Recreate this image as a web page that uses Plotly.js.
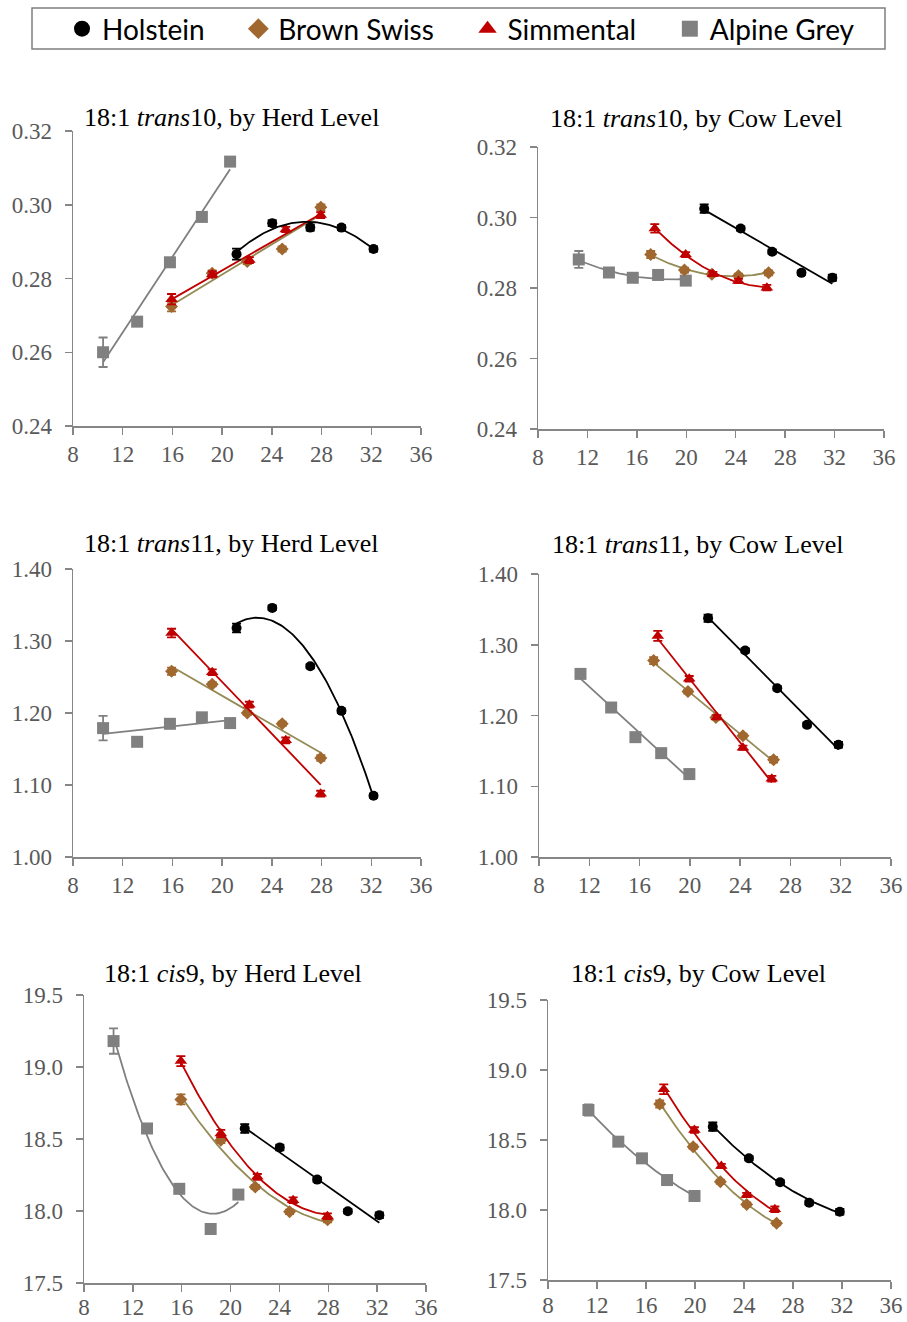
<!DOCTYPE html>
<html><head><meta charset="utf-8">
<script src="https://cdn.plot.ly/plotly-3.0.1.min.js"></script>
<style>html,body{margin:0;padding:0;background:#fff}#chart{width:907px;height:1322px}</style>
</head><body><div id="chart"></div>
<script>
// ---------- data ----------
const breeds = ['Holstein', 'Brown Swiss', 'Simmental', 'Alpine Grey'];

// milk yield (x) by herd level and by cow level
const xHerdHol = [21.16, 24.03, 27.09, 29.60, 32.18];
const xHerdBS  = [15.93, 19.20, 22.02, 24.83, 27.94];
const xHerdSim = [15.93, 19.20, 22.19, 25.12, 27.93];
const xHerdAG  = [10.42, 13.16, 15.80, 18.37, 20.64];
const xCowHol  = [21.45, 24.40, 26.95, 29.32, 31.82];
const xCowBS   = [17.12, 19.85, 22.07, 24.22, 26.66];
const xCowSim  = [17.45, 19.95, 22.15, 24.22, 26.52];
const xCowAG   = [11.30, 13.74, 15.67, 17.72, 19.96];

// 18:1 trans10
const t10HerdHol = [0.2866, 0.2950, 0.2938, 0.2938, 0.2880];
const t10HerdBS  = [0.2724, 0.2814, 0.2846, 0.2880, 0.2993];
const t10HerdSim = [0.2744, 0.2811, 0.2850, 0.2933, 0.2972];
const t10HerdAG  = [0.2600, 0.2683, 0.2844, 0.2967, 0.3117];
const t10HerdHolSE = [0.0015, 0.0008, 0.0008, 0.0007, 0.0007];
const t10HerdBSSE  = [0.0013, 0.0008, 0.0007, 0.0007, 0.0008];
const t10HerdSimSE = [0.0014, 0.0008, 0.0008, 0.0007, 0.0008];
const t10HerdAGSE  = [0.0040, 0.0008, 0.0008, 0.0008, 0.0008];

const t10CowHol = [0.3025, 0.2969, 0.2903, 0.2843, 0.2829];
const t10CowBS  = [0.2895, 0.2851, 0.2839, 0.2835, 0.2843];
const t10CowSim = [0.2969, 0.2895, 0.2840, 0.2820, 0.2801];
const t10CowAG  = [0.2881, 0.2844, 0.2829, 0.2837, 0.2821];
const t10CowHolSE = [0.0012, 0.0006, 0.0006, 0.0006, 0.0009];
const t10CowBSSE  = [0.0010, 0.0007, 0.0006, 0.0006, 0.0007];
const t10CowSimSE = [0.0012, 0.0007, 0.0006, 0.0006, 0.0008];
const t10CowAGSE  = [0.0024, 0.0008, 0.0007, 0.0007, 0.0009];

// 18:1 trans11
const t11HerdHol = [1.318, 1.346, 1.265, 1.203, 1.085];
const t11HerdBS  = [1.258, 1.240, 1.200, 1.185, 1.1375];
const t11HerdSim = [1.311, 1.2565, 1.2116, 1.162, 1.088];
const t11HerdAG  = [1.179, 1.160, 1.185, 1.194, 1.186];
const t11HerdHolSE = [0.006, 0.003, 0.003, 0.003, 0.003];
const t11HerdBSSE  = [0.005, 0.003, 0.003, 0.003, 0.004];
const t11HerdSimSE = [0.006, 0.004, 0.004, 0.004, 0.004];
const t11HerdAGSE  = [0.017, 0.004, 0.004, 0.004, 0.004];

const t11CowHol = [1.3374, 1.2918, 1.2386, 1.1868, 1.1586];
const t11CowBS  = [1.2776, 1.2339, 1.1972, 1.1713, 1.1374];
const t11CowSim = [1.3125, 1.2518, 1.1976, 1.1544, 1.1106];
const t11CowAG  = [1.2588, 1.2113, 1.1694, 1.1468, 1.1172];
const t11CowHolSE = [0.005, 0.003, 0.003, 0.003, 0.004];
const t11CowBSSE  = [0.005, 0.003, 0.003, 0.003, 0.004];
const t11CowSimSE = [0.007, 0.004, 0.003, 0.003, 0.004];
const t11CowAGSE  = [0.006, 0.003, 0.003, 0.003, 0.003];

// 18:1 cis9
const c9HerdHol = [18.573, 18.441, 18.218, 17.998, 17.970];
const c9HerdBS  = [18.775, 18.492, 18.167, 17.994, 17.940];
const c9HerdSim = [19.041, 18.538, 18.237, 18.075, 17.963];
const c9HerdAG  = [19.180, 18.573, 18.154, 17.875, 18.114];
const c9HerdHolSE = [0.030, 0.020, 0.015, 0.015, 0.020];
const c9HerdBSSE  = [0.035, 0.020, 0.015, 0.015, 0.018];
const c9HerdSimSE = [0.035, 0.025, 0.020, 0.020, 0.020];
const c9HerdAGSE  = [0.088, 0.020, 0.020, 0.020, 0.020];

const c9CowHol = [18.595, 18.369, 18.198, 18.052, 17.988];
const c9CowBS  = [18.757, 18.452, 18.202, 18.040, 17.905];
const c9CowSim = [18.862, 18.571, 18.314, 18.107, 18.005];
const c9CowAG  = [18.714, 18.488, 18.369, 18.214, 18.100];
const c9CowHolSE = [0.030, 0.015, 0.015, 0.015, 0.020];
const c9CowBSSE  = [0.025, 0.015, 0.015, 0.015, 0.015];
const c9CowSimSE = [0.035, 0.020, 0.015, 0.015, 0.020];
const c9CowAGSE  = [0.040, 0.015, 0.015, 0.015, 0.015];

// trendline polynomial order per panel, breed order: Hol, BS, Sim, AG
const fitT10Herd = [2, 1, 1, 1];
const fitT10Cow  = [1, 2, 2, 2];
const fitT11Herd = [2, 1, 1, 1];
const fitT11Cow  = [1, 1, 1, 1];
const fitC9Herd  = [1, 2, 2, 2];
const fitC9Cow   = [2, 2, 2, 2];

// ---------- styles ----------
const markerColor = ['#000000', '#a0672e', '#c00000', '#808080'];
const lineColor   = ['#000000', '#948a54', '#c00000', '#7f7f7f'];
const symbols     = ['circle', 'diamond', 'triangle-up', 'square'];
const msize       = [10, 10, 11, 12];
const W = 907, H = 1322;
const serif = 'Liberation Serif';
const axisGrey = '#868686';
const pad = '\u00a0\u00a0\u00a0\u00a0';

const xHerd = [xHerdHol, xHerdBS, xHerdSim, xHerdAG];
const xCow  = [xCowHol, xCowBS, xCowSim, xCowAG];

const panels = [
  {title: '18:1 <i>trans</i>10, by Herd Level', box: [73, 421, 131, 426], tc: [231, 118], xso: 0,
   yr: [0.24, 0.32], dt: 0.02, fmt: '.2f', xs: xHerd,
   ys: [t10HerdHol, t10HerdBS, t10HerdSim, t10HerdAG], es: [t10HerdHolSE, t10HerdBSSE, t10HerdSimSE, t10HerdAGSE], ord: fitT10Herd},
  {title: '18:1 <i>trans</i>10, by Cow Level', box: [538, 884, 147, 429], tc: [696, 119], xso: 0,
   yr: [0.24, 0.32], dt: 0.02, fmt: '.2f', xs: xCow,
   ys: [t10CowHol, t10CowBS, t10CowSim, t10CowAG], es: [t10CowHolSE, t10CowBSSE, t10CowSimSE, t10CowAGSE], ord: fitT10Cow},
  {title: '18:1 <i>trans</i>11, by Herd Level', box: [73, 421, 569, 857], tc: [231, 543], xso: 0,
   yr: [1.0, 1.4], dt: 0.1, fmt: '.2f', xs: xHerd,
   ys: [t11HerdHol, t11HerdBS, t11HerdSim, t11HerdAG], es: [t11HerdHolSE, t11HerdBSSE, t11HerdSimSE, t11HerdAGSE], ord: fitT11Herd},
  {title: '18:1 <i>trans</i>11, by Cow Level', box: [539, 891, 574, 857], tc: [698, 544], xso: 0,
   yr: [1.0, 1.4], dt: 0.1, fmt: '.2f', xs: xCow,
   ys: [t11CowHol, t11CowBS, t11CowSim, t11CowAG], es: [t11CowHolSE, t11CowBSSE, t11CowSimSE, t11CowAGSE], ord: fitT11Cow},
  {title: '18:1 <i>cis</i>9, by Herd Level', box: [84, 426, 995, 1283], tc: [233, 973], xso: -4,
   yr: [17.5, 19.5], dt: 0.5, fmt: '.1f', xs: xHerd,
   ys: [c9HerdHol, c9HerdBS, c9HerdSim, c9HerdAG], es: [c9HerdHolSE, c9HerdBSSE, c9HerdSimSE, c9HerdAGSE], ord: fitC9Herd},
  {title: '18:1 <i>cis</i>9, by Cow Level', box: [548, 891, 1000, 1280], tc: [698, 973], xso: -3,
   yr: [17.5, 19.5], dt: 0.5, fmt: '.1f', xs: xCow,
   ys: [c9CowHol, c9CowBS, c9CowSim, c9CowAG], es: [c9CowHolSE, c9CowBSSE, c9CowSimSE, c9CowAGSE], ord: fitC9Cow}
];

function polyfit(xs, ys, ord) {
  const mx = xs.reduce((a, b) => a + b, 0) / xs.length;
  const n = ord + 1;
  const A = Array.from({length: n}, () => Array(n + 1).fill(0));
  xs.forEach((xv, k) => {
    const u = xv - mx;
    for (let i = 0; i < n; i++) {
      for (let j = 0; j < n; j++) A[i][j] += Math.pow(u, i + j);
      A[i][n] += ys[k] * Math.pow(u, i);
    }
  });
  for (let i = 0; i < n; i++) {
    let p = i;
    for (let r = i + 1; r < n; r++) if (Math.abs(A[r][i]) > Math.abs(A[p][i])) p = r;
    [A[i], A[p]] = [A[p], A[i]];
    for (let r = 0; r < n; r++) {
      if (r === i) continue;
      const f = A[r][i] / A[i][i];
      for (let c = i; c <= n; c++) A[r][c] -= f * A[i][c];
    }
  }
  const coef = A.map((row, i) => row[n] / row[i]);
  return xv => coef.reduce((s, c, i) => s + c * Math.pow(xv - mx, i), 0);
}

const traces = [];
// legend-only entries
breeds.forEach((b, i) => {
  traces.push({x: [null], y: [null], type: 'scatter', mode: 'markers', name: b + pad,
    marker: {symbol: symbols[i], color: markerColor[i], size: 16}, showlegend: true, hoverinfo: 'skip'});
});

const layout = {
  width: W, height: H, margin: {l: 0, r: 0, t: 0, b: 0}, autosize: false,
  paper_bgcolor: '#ffffff', plot_bgcolor: 'rgba(0,0,0,0)',
  font: {family: serif, size: 23, color: '#595959'},
  showlegend: true,
  legend: {orientation: 'h', x: 62 / W, xanchor: 'left', y: 1 - 29 / H, yanchor: 'middle',
    font: {family: 'Lato', size: 28, color: '#000'}, bgcolor: 'rgba(0,0,0,0)', borderwidth: 0},
  shapes: [{type: 'rect', xref: 'paper', yref: 'paper', x0: 32 / W, x1: 885 / W, y0: 1 - 49 / H, y1: 1 - 8 / H,
    line: {color: '#7f7f7f', width: 1.5}, fillcolor: 'rgba(0,0,0,0)'}],
  annotations: []
};

panels.forEach((p, k) => {
  const idx = k + 1;
  const xa = 'x' + (idx === 1 ? '' : idx), ya = 'y' + (idx === 1 ? '' : idx);
  const xkey = 'xaxis' + (idx === 1 ? '' : idx), ykey = 'yaxis' + (idx === 1 ? '' : idx);
  const [x0, x1, yt, yb] = p.box;
  layout[xkey] = {domain: [x0 / W, x1 / W], anchor: ya, range: [8, 36], tick0: 8, dtick: 4,
    showgrid: false, zeroline: false, showline: true, linecolor: axisGrey, linewidth: 1.5,
    ticks: 'outside', ticklen: 7, tickwidth: 1.5, tickcolor: axisGrey, ticklabelstandoff: p.xso,
    tickfont: {family: serif, size: 23, color: '#595959'}, fixedrange: true};
  layout[ykey] = {domain: [1 - yb / H, 1 - yt / H], anchor: xa, range: p.yr, tick0: p.yr[0], dtick: p.dt,
    tickformat: p.fmt, showgrid: false, zeroline: false, showline: true, linecolor: axisGrey, linewidth: 1.5,
    ticks: 'outside', ticklen: 7, tickwidth: 1.5, tickcolor: axisGrey, ticklabelstandoff: 8,
    tickfont: {family: serif, size: 23, color: '#595959'}, fixedrange: true};
  layout.annotations.push({text: p.title, xref: 'paper', yref: 'paper', x: p.tc[0] / W, y: 1 - p.tc[1] / H,
    xanchor: 'center', yanchor: 'middle', showarrow: false, font: {family: serif, size: 26, color: '#000'}});

  // draw Alpine Grey first, Holstein last
  [3, 1, 2, 0].forEach(i => {
    const xs = p.xs[i], ys = p.ys[i];
    const f = polyfit(xs, ys, p.ord[i]);
    const lo = Math.min(...xs), hi = Math.max(...xs);
    const cx = [], cy = [];
    for (let s = 0; s <= 80; s++) { const xv = lo + (hi - lo) * s / 80; cx.push(xv); cy.push(f(xv)); }
    traces.push({x: cx, y: cy, xaxis: xa, yaxis: ya, type: 'scatter', mode: 'lines', showlegend: false,
      line: {color: lineColor[i], width: 1.8}, hoverinfo: 'skip'});
    traces.push({x: xs, y: ys, xaxis: xa, yaxis: ya, type: 'scatter', mode: 'markers', showlegend: false,
      name: breeds[i],
      marker: {symbol: symbols[i], color: markerColor[i], size: msize[i]},
      error_y: {type: 'data', array: p.es[i], visible: true, color: markerColor[i], thickness: 1.8, width: 4.5}});
  });
});

Plotly.newPlot('chart', traces, layout, {staticPlot: true, displayModeBar: false});
</script></body></html>
